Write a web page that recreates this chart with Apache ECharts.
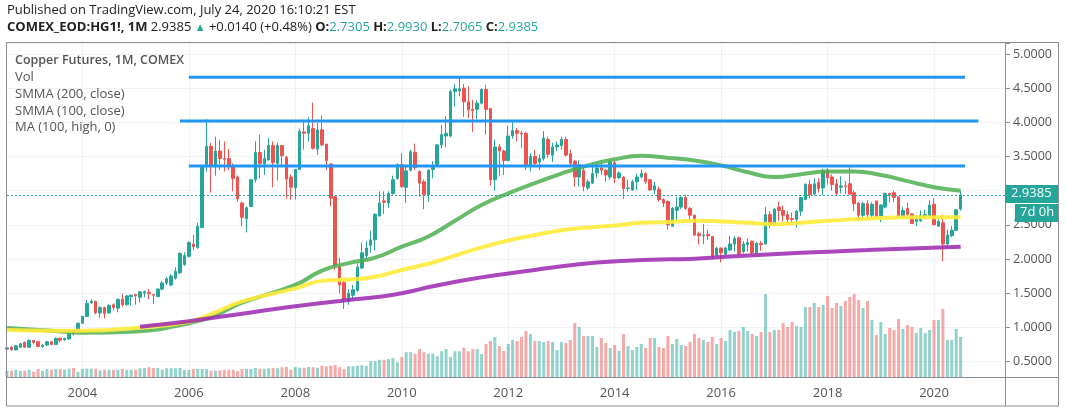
<!DOCTYPE html>
<html><head><meta charset="utf-8">
<script src="https://cdn.jsdelivr.net/npm/echarts@6/dist/echarts.min.js"></script>
<style>html,body{margin:0;padding:0;background:#fff;}#c{width:1066px;height:413px;}</style>
</head><body><div id="c"></div>
<script>
// ---- Monthly bars, Aug 2002 .. Jul 2020 ----
const firstYear = 2002, firstMonth = 8, axisMonths = 226; // axis runs to May 2021

const opens = [
 0.68,0.71,0.67,0.71,0.78,
 0.71,0.81,0.79,0.72,0.74,0.79,0.75,0.84,0.82,0.83,0.96,0.94,
 1.06,1.16,1.36,1.38,1.21,1.29,1.21,1.33,1.28,1.41,1.33,1.45,
 1.48,1.44,1.50,1.51,1.48,1.45,1.56,1.65,1.62,1.72,1.80,1.92,
 2.04,2.22,2.17,2.46,3.35,3.65,3.36,3.58,3.47,3.47,3.36,3.20,
 2.82,2.59,2.77,3.16,3.56,3.39,3.45,3.66,3.40,3.66,3.49,3.20,
 3.04,3.31,3.86,3.84,3.91,3.61,3.89,3.68,3.39,2.91,1.89,1.66,
 1.39,1.47,1.54,1.87,2.05,2.20,2.28,2.63,2.85,2.82,2.96,3.18,
 3.38,3.05,3.30,3.56,3.28,3.13,2.94,3.31,3.36,3.67,3.80,3.80,
 4.45,4.46,4.50,4.30,4.19,4.19,4.28,4.48,4.20,3.16,3.64,3.58,
 3.44,3.80,3.88,3.84,3.84,3.38,3.50,3.42,3.47,3.75,3.52,3.64,
 3.66,3.75,3.54,3.43,3.20,3.30,3.04,3.11,3.26,3.33,3.30,3.20,
 3.41,3.19,3.20,3.03,3.01,3.13,3.20,3.25,3.16,3.01,3.02,2.87,
 2.84,2.48,2.71,2.76,2.90,2.74,2.64,2.37,2.34,2.36,2.33,2.05,
 2.16,2.07,2.13,2.22,2.31,2.11,2.21,2.26,2.09,2.23,2.22,2.65,
 2.50,2.76,2.71,2.65,2.59,2.58,2.70,2.87,3.09,2.95,3.12,3.04,
 3.30,3.20,3.10,3.05,3.07,3.10,2.97,2.82,2.64,2.81,2.64,2.85,
 2.63,2.76,2.96,2.97,2.91,2.62,2.74,2.66,2.55,2.56,2.63,2.63,
 2.80,2.48,2.53,2.22,2.34,2.42,2.7305
];
const highs = [
 0.71,0.73,0.74,0.77,0.79,
 0.82,0.81,0.80,0.75,0.80,0.80,0.85,0.85,0.85,0.96,0.97,1.07,
 1.17,1.40,1.41,1.39,1.31,1.30,1.34,1.35,1.42,1.49,1.47,1.48,
 1.49,1.53,1.54,1.56,1.49,1.57,1.68,1.74,1.78,1.88,2.10,2.10,
 2.26,2.35,2.53,3.37,4.05,3.70,3.79,3.74,3.72,3.61,3.40,3.22,
 2.84,2.77,3.17,3.72,3.82,3.60,3.77,3.72,3.71,3.67,3.51,3.24,
 3.32,3.91,4.04,4.08,4.29,3.99,4.10,3.69,3.40,2.92,2.02,1.68,
 1.56,1.62,1.94,2.24,2.26,2.41,2.67,2.99,2.99,2.99,3.22,3.40,
 3.55,3.36,3.60,3.69,3.30,3.16,3.31,3.43,3.68,3.96,4.09,4.48,
 4.56,4.65,4.56,4.53,4.33,4.32,4.50,4.55,4.21,3.75,3.68,3.60,
 3.95,4.00,3.92,3.88,3.86,3.55,3.60,3.53,3.87,3.79,3.70,3.72,
 3.79,3.79,3.60,3.45,3.44,3.35,3.16,3.40,3.40,3.41,3.32,3.46,
 3.45,3.28,3.21,3.16,3.16,3.25,3.31,3.27,3.17,3.13,3.06,2.89,
 2.86,2.76,2.91,2.92,2.94,2.76,2.65,2.40,2.51,2.43,2.34,2.18,
 2.17,2.18,2.34,2.33,2.33,2.26,2.30,2.27,2.25,2.26,2.76,2.70,
 2.75,2.84,2.78,2.70,2.68,2.72,2.90,3.11,3.16,3.18,3.18,3.32,
 3.33,3.24,3.17,3.21,3.14,3.34,3.00,2.83,2.84,2.86,2.83,2.85,
 2.80,2.97,2.97,3.00,2.92,2.76,2.82,2.67,2.64,2.71,2.72,2.86,
 2.89,2.61,2.65,2.43,2.48,2.73,2.9930
];
const lows = [
 0.67,0.66,0.66,0.70,0.70,
 0.70,0.75,0.71,0.70,0.73,0.74,0.74,0.78,0.80,0.82,0.88,0.93,
 1.05,1.15,1.34,1.19,1.14,1.13,1.20,1.25,1.22,1.30,1.32,1.32,
 1.33,1.36,1.44,1.41,1.34,1.44,1.54,1.62,1.60,1.70,1.78,1.90,
 2.02,2.13,2.15,2.45,3.28,2.97,3.22,3.30,3.28,3.30,2.99,2.84,
 2.48,2.39,2.76,3.12,3.18,3.23,3.44,3.05,3.15,3.36,2.88,2.87,
 2.87,3.30,3.60,3.72,3.60,3.52,3.65,3.30,2.77,1.84,1.50,1.27,
 1.33,1.40,1.52,1.85,1.99,2.09,2.13,2.62,2.66,2.75,2.94,3.16,
 3.04,2.82,3.28,3.30,2.91,2.73,2.84,3.18,3.35,3.62,3.64,3.78,
 4.23,4.38,4.08,4.06,3.86,4.05,4.26,3.82,3.07,3.00,3.21,3.23,
 3.43,3.76,3.72,3.62,3.30,3.28,3.35,3.30,3.44,3.48,3.42,3.58,
 3.60,3.50,3.37,3.06,3.06,2.99,3.01,3.10,3.19,3.23,3.13,3.16,
 3.11,3.17,2.88,2.99,3.00,3.01,3.18,3.10,3.00,2.95,2.84,2.76,
 2.43,2.47,2.57,2.73,2.72,2.57,2.34,2.21,2.22,2.28,2.00,2.04,
 1.95,2.05,2.12,2.11,2.06,2.08,2.11,2.06,2.08,2.12,2.21,2.45,
 2.49,2.56,2.55,2.52,2.53,2.46,2.63,2.86,2.89,2.93,2.97,2.94,
 3.09,3.00,2.92,2.96,2.95,2.94,2.70,2.56,2.56,2.59,2.60,2.61,
 2.54,2.74,2.83,2.83,2.62,2.61,2.60,2.51,2.48,2.54,2.58,2.61,
 2.50,2.47,1.97,2.15,2.32,2.41,2.7065
];
const closes = [
 0.70,0.67,0.73,0.76,0.71,
 0.81,0.78,0.72,0.74,0.79,0.75,0.84,0.81,0.84,0.95,0.91,1.06,
 1.16,1.35,1.38,1.21,1.29,1.20,1.32,1.29,1.41,1.33,1.46,1.47,
 1.46,1.52,1.52,1.49,1.47,1.56,1.65,1.71,1.75,1.82,2.08,2.05,
 2.24,2.18,2.48,3.35,3.65,3.36,3.58,3.47,3.46,3.35,3.18,2.88,
 2.61,2.75,3.16,3.56,3.40,3.47,3.66,3.41,3.66,3.51,3.17,3.05,
 3.31,3.87,3.84,3.95,3.62,3.89,3.67,3.44,2.89,1.91,1.62,1.41,
 1.50,1.55,1.88,2.09,2.16,2.28,2.65,2.82,2.83,2.96,3.16,3.38,
 3.06,3.29,3.57,3.34,3.11,2.94,3.30,3.34,3.67,3.82,3.84,4.45,
 4.49,4.49,4.30,4.18,4.17,4.28,4.48,4.19,3.16,3.64,3.58,3.44,
 3.80,3.88,3.84,3.83,3.38,3.50,3.40,3.47,3.77,3.53,3.64,3.67,
 3.75,3.52,3.40,3.20,3.38,3.06,3.13,3.25,3.33,3.30,3.23,3.42,
 3.18,3.26,3.03,3.04,3.13,3.20,3.25,3.13,3.01,3.07,2.87,2.82,
 2.50,2.74,2.76,2.90,2.74,2.64,2.35,2.34,2.35,2.34,2.05,2.16,
 2.09,2.16,2.22,2.30,2.08,2.22,2.24,2.09,2.23,2.21,2.65,2.50,
 2.73,2.71,2.64,2.58,2.58,2.70,2.90,3.09,2.94,3.10,3.03,3.29,
 3.19,3.09,2.96,3.07,3.06,2.95,2.81,2.64,2.81,2.65,2.80,2.62,
 2.79,2.96,2.94,2.90,2.63,2.71,2.65,2.52,2.59,2.64,2.65,2.79,
 2.50,2.55,2.22,2.35,2.42,2.72,2.9385
];
// monthly volume, thousand contracts
const volumes = [
 240,250,290,250,250,
 290,210,320,250,320,290,320,320,290,330,360,210,
 320,330,330,330,270,290,290,290,290,320,290,290,
 290,350,360,390,360,360,290,350,350,350,360,280,
 290,320,320,320,320,250,250,270,290,290,290,230,
 320,320,320,360,330,330,350,360,350,390,400,290,
 400,370,370,400,390,370,450,430,450,480,390,320,
 430,430,450,470,450,630,630,690,690,720,760,590,
 800,990,990,930,1120,990,930,930,830,1030,1120,800,
 1030,1030,1170,1030,1120,1120,920,1320,1440,1600,1240,1040,
 1320,1480,1440,1600,1840,1720,1440,1440,1400,1440,1400,1080,
 1400,1360,1480,2160,2000,1640,1640,1640,1200,1560,1360,1160,
 1280,1040,1720,1240,1080,1200,1320,1160,1560,1560,1200,1160,
 1640,1320,1520,1280,1240,1400,1720,1560,1480,1400,1600,1320,
 1560,1440,1880,1800,1840,2000,1840,1720,1640,1800,3320,1800,
 1880,1880,2160,2000,2200,2040,2000,2800,2800,2960,2800,2880,
 3240,2760,2960,2840,3040,3200,3320,3080,2760,3040,2280,1680,
 2200,1720,1960,1880,2320,1920,2080,2000,1760,1960,1760,1880,
 2280,2280,2720,1480,1480,1920,1600
];
// indicator lines at sample months
const smma200 = [['2002-08',0.99],['2003-06',0.95],['2004-01',0.92],['2005-01',0.94],['2006-01',1.06],['2006-07',1.18],['2007-01',1.36],['2008-01',1.62],['2008-07',1.83],['2009-01',1.94],['2009-07',2.02],['2010-01',2.18],['2010-07',2.33],['2011-01',2.56],['2011-07',2.79],['2012-01',2.96],['2012-07',3.11],['2013-01',3.25],['2013-07',3.37],['2014-01',3.46],['2014-07',3.51],['2015-01',3.48],['2015-07',3.44],['2016-01',3.37],['2016-07',3.27],['2017-01',3.20],['2017-07',3.24],['2018-01',3.28],['2018-07',3.28],['2019-01',3.23],['2019-07',3.14],['2020-01',3.05],['2020-07',3.00]];
const smma100 = [['2002-08',0.96],['2003-06',0.95],['2004-01',0.95],['2005-01',0.99],['2006-01',1.08],['2006-07',1.22],['2007-01',1.38],['2008-01',1.57],['2008-07',1.68],['2009-01',1.70],['2009-07',1.74],['2010-01',1.84],['2010-07',1.93],['2011-01',2.05],['2011-07',2.17],['2012-01',2.27],['2012-07',2.35],['2013-01',2.42],['2013-07',2.46],['2014-01',2.49],['2014-07',2.53],['2015-01',2.54],['2015-07',2.56],['2016-01',2.55],['2016-07',2.53],['2017-01',2.51],['2017-07',2.53],['2018-01',2.56],['2018-07',2.58],['2019-01',2.60],['2019-07',2.61],['2020-01',2.61],['2020-07',2.61]];
const ma100high = [['2005-02',1.01],['2006-01',1.09],['2007-01',1.20],['2008-01',1.31],['2009-01',1.40],['2009-07',1.44],['2010-01',1.50],['2010-08',1.60],['2011-04',1.70],['2011-11',1.77],['2012-07',1.84],['2013-02',1.90],['2013-09',1.95],['2014-09',1.99],['2015-06',2.00],['2016-04',2.04],['2017-07',2.09],['2018-10',2.13],['2020-07',2.18]];
// horizontal levels drawn on the chart: [from, to, price]
const levels = [['2006-01','2020-08',4.66],['2005-11','2020-11',4.02],['2006-01','2020-08',3.36]];
const priceTicks = {min:0.5, max:5.161, step:0.5};
const headerLine1 = 'Published on TradingView.com, July 24, 2020 16:10:21 EST';
const legendLines = ['Copper Futures, 1M, COMEX','Vol','SMMA (200, close)','SMMA (100, close)','MA (100, high, 0)'];

// ---- build ----
const categories = [];
for (let i = 0; i < axisMonths; i++) {
  const t = firstMonth - 1 + i;
  categories.push((firstYear + Math.floor(t / 12)) + '-' + String(t % 12 + 1).padStart(2, '0'));
}
const candleData = opens.map((o, i) => [o, closes[i], lows[i], highs[i]]);
const UP = '#26a69a', DOWN = '#ef5350';
const volData = volumes.map((v, i) => ({value: v, itemStyle: {color: closes[i] >= opens[i] ? 'rgba(38,166,154,0.5)' : 'rgba(239,83,80,0.5)'}}));
const isYearTick = (idx, v) => v.endsWith('-01') && (+v.slice(0, 4)) % 2 === 0;
const lastClose = closes[closes.length - 1];
const FONT = '"Open Sans", Roboto, sans-serif';

const series = [
  {type: 'bar', xAxisIndex: 1, yAxisIndex: 1, data: volData, barWidth: 3, z: 1, silent: true},
  {type: 'candlestick', xAxisIndex: 0, yAxisIndex: 0, data: candleData, barWidth: 3, z: 3,
   itemStyle: {color: UP, color0: DOWN, borderColor: UP, borderColor0: DOWN, borderWidth: 1},
   markLine: {silent: true, symbol: ['none', 'none'], label: {show: false},
     lineStyle: {color: UP, type: [2, 2], width: 1}, data: [{yAxis: lastClose}]}},
  {type: 'line', xAxisIndex: 0, yAxisIndex: 0, data: smma200, smooth: true, showSymbol: false, z: 4,
   lineStyle: {color: '#4caf50', width: 4, opacity: 0.85}},
  {type: 'line', xAxisIndex: 0, yAxisIndex: 0, data: smma100, smooth: true, showSymbol: false, z: 4,
   lineStyle: {color: '#ffeb3b', width: 4, opacity: 0.9}},
  {type: 'line', xAxisIndex: 0, yAxisIndex: 0, data: ma100high, smooth: true, showSymbol: false, z: 4,
   lineStyle: {color: '#9c27b0', width: 4, opacity: 0.85}}
];
levels.forEach(l => series.push({type: 'line', xAxisIndex: 0, yAxisIndex: 0, showSymbol: false, z: 5,
  data: [[l[0], l[2]], [l[1], l[2]]], lineStyle: {color: '#2196f3', width: 3}}));

const G = [];
G.push({type: 'text', left: 7, top: 4, z: 100, style: {text: headerLine1, font: '13px ' + FONT, fill: '#222'}});
G.push({type: 'text', left: 7, top: 21, z: 100, style: {
  text: '{b|COMEX_EOD:HG1!, 1M} {n|' + lastClose.toFixed(4) + '} {t|▲} {n|+0.0140 (+0.48%)} {b|O:}{g|' + opens[opens.length-1].toFixed(4) + '} {b|H:}{g|' + highs[highs.length-1].toFixed(4) + '} {b|L:}{g|' + lows[lows.length-1].toFixed(4) + '} {b|C:}{g|' + lastClose.toFixed(4) + '}',
  rich: {b: {font: 'bold 13px ' + FONT, fill: '#222'}, n: {font: '13px ' + FONT, fill: '#222'},
         t: {font: '11px ' + FONT, fill: UP}, g: {font: '13px ' + FONT, fill: UP}}}});
legendLines.forEach((t, i) => G.push({type: 'text', left: 15, top: 54 + i * 16.8, z: 100,
  style: {text: t, font: (i === 0 ? '600 12.5px ' : '13px ') + FONT, fill: '#555'}}));
G.push({type: 'rect', shape: {x: 6.5, y: 42.5, width: 1052, height: 363.5}, style: {fill: 'none', stroke: '#8a8d96', lineWidth: 1}, z: 10});
G.push({type: 'line', shape: {x1: 1005.5, y1: 42.5, x2: 1005.5, y2: 406}, style: {stroke: '#8a8d96', lineWidth: 1}, z: 10});
G.push({type: 'line', shape: {x1: 6.5, y1: 377.5, x2: 1059, y2: 377.5}, style: {stroke: '#8a8d96', lineWidth: 1}, z: 10});
G.push({type: 'rect', shape: {x: 1005, y: 185, width: 53, height: 18}, style: {fill: UP}, z: 20});
G.push({type: 'text', left: 1011, top: 187, z: 21, style: {text: lastClose.toFixed(4), font: '13px ' + FONT, fill: '#fff'}});
G.push({type: 'rect', shape: {x: 1015, y: 204, width: 43, height: 18}, style: {fill: UP}, z: 20});
G.push({type: 'text', left: 1020, top: 206, z: 21, style: {text: '7d 0h', font: '13px ' + FONT, fill: '#fff'}});

const chart = echarts.init(document.getElementById('c'), null, {renderer: 'canvas'});
chart.setOption({
  animation: false,
  backgroundColor: '#fff',
  textStyle: {fontFamily: FONT},
  grid: [
    {left: 7, right: 61, top: 43, bottom: 51.5},
    {left: 7, right: 61, top: 43, bottom: 36}
  ],
  xAxis: [
    {type: 'category', gridIndex: 0, data: categories, boundaryGap: false, show: false},
    {type: 'category', gridIndex: 1, data: categories, boundaryGap: false,
     axisLine: {show: false}, axisTick: {show: false},
     axisLabel: {interval: isYearTick, formatter: v => v.slice(0, 4), color: '#555', fontSize: 13, margin: 10},
     splitLine: {show: true, interval: isYearTick, lineStyle: {color: '#eff1f6'}}}
  ],
  yAxis: [
    {type: 'value', gridIndex: 0, position: 'right', min: priceTicks.min, max: priceTicks.max, interval: priceTicks.step,
     axisLine: {show: false}, axisTick: {show: true, length: 5, lineStyle: {color: '#8a8d96'}},
     axisLabel: {color: '#555', fontSize: 12.5, margin: 8,
       formatter: v => Math.abs(v * 2 - Math.round(v * 2)) < 1e-6 ? v.toFixed(4) : ''},
     splitLine: {show: true, lineStyle: {color: '#eff1f6'}}},
    {type: 'value', gridIndex: 1, min: 0, max: 13360, show: false}
  ],
  series: series,
  graphic: G
});
</script></body></html>
